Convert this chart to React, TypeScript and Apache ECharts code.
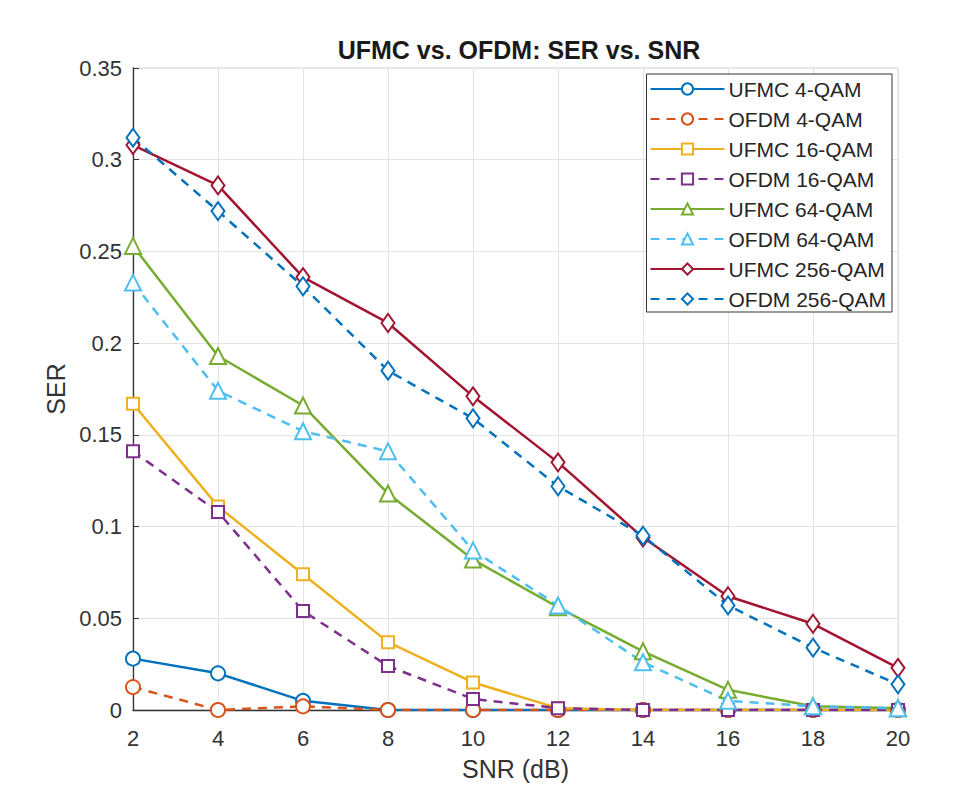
import React, { useEffect, useRef } from "react";
import * as echarts from "echarts";

const snr = [2, 4, 6, 8, 10, 12, 14, 16, 18, 20];
const ufmc4 = [0.028, 0.02, 0.005, 0, 0, 0, 0, 0, 0, 0];
const ofdm4 = [0.0125, 0, 0.002, 0, 0, 0, 0, 0, 0, 0];
const ufmc16 = [0.167, 0.111, 0.074, 0.037, 0.015, 0.001, 0, 0, 0, 0];
const ofdm16 = [0.141, 0.108, 0.054, 0.024, 0.006, 0.001, 0, 0, 0, 0];
const ufmc64 = [0.253, 0.193, 0.166, 0.118, 0.082, 0.056, 0.032, 0.011, 0.002, 0.001];
const ofdm64 = [0.233, 0.174, 0.152, 0.141, 0.087, 0.057, 0.026, 0.005, 0.002, 0.001];
const ufmc256 = [0.308, 0.286, 0.236, 0.211, 0.171, 0.135, 0.094, 0.062, 0.047, 0.023];
const ofdm256 = [0.312, 0.272, 0.231, 0.185, 0.159, 0.122, 0.095, 0.057, 0.034, 0.014];

const seriesDefs = [
  { name: "UFMC 4-QAM", data: ufmc4, color: "#0072BD", dash: false, symbol: "emptyCircle", size: 14 },
  { name: "OFDM 4-QAM", data: ofdm4, color: "#D95319", dash: true, symbol: "emptyCircle", size: 14 },
  { name: "UFMC 16-QAM", data: ufmc16, color: "#EDB120", dash: false, symbol: "emptyRect", size: 12 },
  { name: "OFDM 16-QAM", data: ofdm16, color: "#7E2F8E", dash: true, symbol: "emptyRect", size: 12 },
  { name: "UFMC 64-QAM", data: ufmc64, color: "#77AC30", dash: false, symbol: "emptyTriangle", size: 16 },
  { name: "OFDM 64-QAM", data: ofdm64, color: "#4DBEEE", dash: true, symbol: "emptyTriangle", size: 16 },
  { name: "UFMC 256-QAM", data: ufmc256, color: "#A2142F", dash: false, symbol: "emptyDiamond", size: [13, 18] },
  { name: "OFDM 256-QAM", data: ofdm256, color: "#0072BD", dash: true, symbol: "emptyDiamond", size: [13, 18] },
];

export default function App() {
  const ref = useRef<HTMLDivElement>(null);
  useEffect(() => {
    if (!ref.current) return;
    const chart = echarts.init(ref.current, null, { renderer: "svg" });
    chart.setOption({
      animation: false,
      backgroundColor: "#ffffff",
      textStyle: { fontFamily: "Liberation Sans, Arial, sans-serif" },
      title: {
        text: "UFMC vs. OFDM: SER vs. SNR",
        left: 506,
        textAlign: "center",
        top: 24,
        textStyle: { fontSize: 25, fontWeight: "bold", color: "#1a1a1a" },
      },
      grid: { left: 125, right: 66, top: 60, bottom: 59, show: true, borderColor: "#d8d8d8", borderWidth: 1 },
      legend: {
        orient: "vertical",
        right: 72,
        top: 66,
        itemWidth: 74,
        itemHeight: 14,
        itemGap: 8,
        padding: [4, 6, 2, 3],
        borderColor: "#333",
        borderWidth: 1,
        backgroundColor: "#fff",
        textStyle: { fontSize: 21, lineHeight: 22, color: "#262626", padding: [0, 0, 0, -1] },
        data: seriesDefs.map((s) => s.name),
      },
      xAxis: {
        type: "value",
        min: 2,
        max: 20,
        interval: 2,
        name: "SNR (dB)",
        nameLocation: "middle",
        nameGap: 46,
        nameTextStyle: { fontSize: 25, color: "#333" },
        axisLine: { onZero: false, lineStyle: { color: "#333", width: 1.3 } },
        axisTick: { inside: true, length: 6, lineStyle: { color: "#333" } },
        axisLabel: { fontSize: 22, color: "#333", margin: 17 },
        splitLine: { show: true, lineStyle: { color: "#e3e3e3" } },
      },
      yAxis: {
        type: "value",
        min: 0,
        max: 0.35,
        interval: 0.05,
        name: "SER",
        nameLocation: "middle",
        nameGap: 54,
        nameTextStyle: { fontSize: 25, color: "#333" },
        axisLine: { show: true, lineStyle: { color: "#333", width: 1.3 } },
        axisTick: { show: true, inside: true, length: 6, lineStyle: { color: "#333" } },
        axisLabel: { fontSize: 22, color: "#333", margin: 11, formatter: (v: number) => String(+v.toFixed(2)) },
        splitLine: { show: true, lineStyle: { color: "#e3e3e3" } },
      },
      series: seriesDefs.map((s) => ({
        name: s.name,
        type: "line",
        data: snr.map((x, i) => [x, s.data[i]]),
        symbol: s.symbol,
        symbolSize: s.size,
        showAllSymbol: true,
        color: s.color,
        itemStyle: { color: s.color, borderColor: s.color, borderWidth: 2.2 },
        lineStyle: { color: s.color, width: 2.5, type: s.dash ? [9, 7] : "solid" },
      })),
    });
    return () => chart.dispose();
  }, []);
  return <div ref={ref} style={{ width: 956, height: 778 }} />;
}
